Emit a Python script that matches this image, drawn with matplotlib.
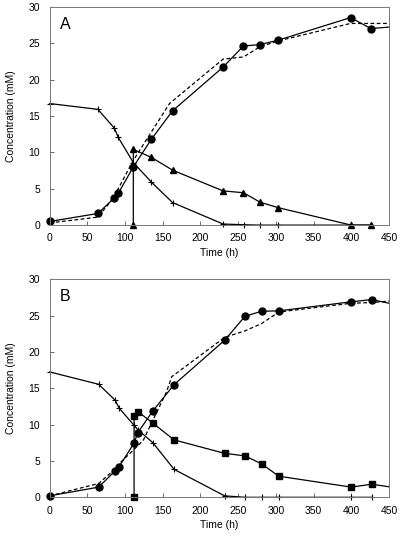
import matplotlib
matplotlib.use("Agg")
import matplotlib.pyplot as plt

plt.rcParams['font.family'] = ['Liberation Sans', 'DejaVu Sans']

# ---- panel A ----
a_sub_t = [0, 64, 86, 91, 111, 135, 163, 230, 258, 279, 303, 400, 426]
a_sub_c = [16.7, 15.9, 13.3, 12.05, 8.6, 5.9, 3.1, 0.15, 0.05, 0.0, 0.0, 0.0, 0.0]
a_prod_t = [0, 64, 86, 91, 111, 135, 163, 230, 257, 279, 303, 399, 426, 450]
a_prod_c = [0.5, 1.6, 3.75, 4.35, 8.0, 11.8, 15.7, 21.7, 24.6, 24.8, 25.4, 28.5, 27.0, 27.2]
a_tri_t = [111, 111, 135, 163, 230, 257, 279, 303, 400, 426]
a_tri_c = [0.0, 10.4, 9.3, 7.55, 4.7, 4.45, 3.15, 2.4, 0.0, 0.0]
a_model_t = [0, 64, 86, 91, 111, 135, 159, 230, 257, 279, 303, 399, 426, 450]
a_model_c = [0.3, 1.1, 3.9, 5.0, 8.9, 12.8, 16.7, 22.8, 23.1, 24.5, 25.3, 27.7, 27.7, 27.7]

# ---- panel B ----
b_sub_t = [0, 65, 87, 92, 112, 117, 137, 165, 232, 259, 281, 304, 400, 427]
b_sub_c = [17.25, 15.55, 13.35, 12.3, 9.9, 9.3, 7.5, 3.85, 0.2, 0.0, 0.0, 0.0, 0.0, 0.0]
b_prod_t = [0, 65, 87, 92, 112, 117, 137, 165, 232, 259, 281, 304, 400, 427, 450]
b_prod_c = [0.2, 1.4, 3.65, 4.2, 7.45, 8.9, 11.9, 15.5, 21.6, 24.9, 25.6, 25.65, 26.9, 27.2, 26.7]
b_sq_t = [112, 112, 117, 137, 165, 232, 259, 281, 304, 400, 427, 450]
b_sq_c = [0.0, 11.2, 11.8, 10.2, 7.9, 6.05, 5.7, 4.6, 2.9, 1.4, 1.8, 1.45]
b_model_t = [0, 65, 87, 91, 112, 124, 155, 162, 232, 259, 281, 304, 400, 427, 450]
b_model_c = [0.2, 1.9, 3.9, 4.5, 6.6, 7.8, 14.5, 16.6, 22.0, 22.9, 23.9, 25.5, 26.7, 26.8, 27.0]

fs = 7.5
lw = 0.9

fig = plt.figure(figsize=(4.0, 5.36), dpi=100)
axA = fig.add_axes([0.124, 0.580, 0.8485, 0.4075])
axB = fig.add_axes([0.124, 0.0722, 0.8485, 0.4068])


def style(ax, letter):
    ax.set_xlim(0, 450)
    ax.set_ylim(0, 30)
    ax.set_xticks(range(0, 451, 50))
    ax.set_yticks(range(0, 31, 5))
    ax.tick_params(direction='in', length=3, width=0.6, labelsize=fs, color='#555555')
    ax.tick_params(axis='x', pad=6)
    ax.tick_params(axis='y', pad=7)
    for s in ax.spines.values():
        s.set_color('#777777')
        s.set_linewidth(0.7)
    ax.set_xlabel('Time (h)', fontsize=fs, labelpad=3)
    ax.set_ylabel('Concentration (mM)', fontsize=fs, labelpad=9)
    ax.text(0.03, 0.955, letter, transform=ax.transAxes, fontsize=11.5,
            ha='left', va='top')


# A
axA.plot(a_model_t, a_model_c, color='black', lw=lw, ls=(0, (3, 2)), clip_on=True)
axA.plot(a_sub_t, a_sub_c, color='black', lw=lw, marker='+', ms=5, mew=0.8, clip_on=False)
axA.plot(a_prod_t, a_prod_c, color='black', lw=lw, marker='o', ms=5,
         markevery=list(range(len(a_prod_t) - 1)), clip_on=False)
axA.plot(a_tri_t, a_tri_c, color='black', lw=lw, marker='^', ms=5, clip_on=False)
style(axA, 'A')

# B
axB.plot(b_model_t, b_model_c, color='black', lw=lw, ls=(0, (3, 2)), clip_on=True)
axB.plot(b_sub_t, b_sub_c, color='black', lw=lw, marker='+', ms=5, mew=0.8, clip_on=False)
axB.plot(b_prod_t, b_prod_c, color='black', lw=lw, marker='o', ms=5,
         markevery=list(range(len(b_prod_t) - 1)), clip_on=False)
axB.plot(b_sq_t, b_sq_c, color='black', lw=lw, marker='s', ms=5,
         markevery=list(range(len(b_sq_t) - 1)), clip_on=False)
style(axB, 'B')

fig.savefig('out.png', dpi=100)
